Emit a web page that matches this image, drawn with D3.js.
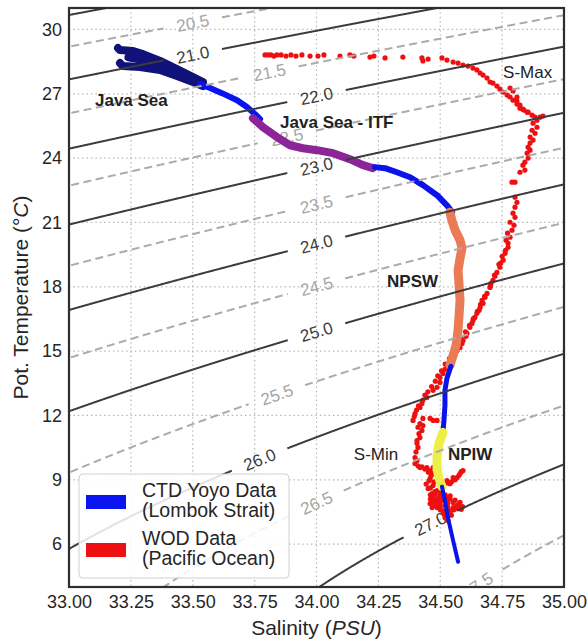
<!DOCTYPE html>
<html>
<head>
<meta charset="utf-8">
<script src="https://cdn.jsdelivr.net/npm/d3@7"></script>
<style>
  body { margin: 0; background: #fff; }
  text { font-family: "Liberation Sans", Arial, Helvetica, sans-serif; }
</style>
</head>
<body>
<svg id="chart" width="588" height="644"></svg>
<script>
// ---- axis ticks ----
const salinityTicks = [33.00, 33.25, 33.50, 33.75, 34.00, 34.25, 34.50, 34.75, 35.00];
const temperatureTicks = [6, 9, 12, 15, 18, 21, 24, 27, 30];

// ---- potential density (sigma-theta) isopycnals and where their labels sit ----
const sigmaLevels = [20.0, 20.5, 21.0, 21.5, 22.0, 22.5, 23.0, 23.5, 24.0, 24.5, 25.0, 25.5, 26.0, 26.5, 27.0, 27.5];
const sigmaLabelSalinity = [null, 33.50, 33.50, 33.81, 34.00, 33.88, 34.00, 34.00, 34.00, 34.00, 34.00, 33.84, 33.77, 34.00, 34.46, 34.65];

// ---- CTD yoyo casts, Lombok Strait: [salinity, potential temperature] ----
const ctdJavaSea = [
  [[33.198, 29.13], [33.206, 29.04], [33.259, 28.99], [33.299, 28.85], [33.368, 28.53], [33.436, 28.15], [33.501, 27.78], [33.541, 27.55]],
  [[33.206, 28.43], [33.218, 28.29], [33.287, 28.25], [33.368, 28.11], [33.436, 27.83], [33.501, 27.55], [33.541, 27.36]],
  [[33.240, 28.70], [33.299, 28.57], [33.368, 28.31], [33.436, 27.99], [33.501, 27.66]]
];
const ctdTransition = [[33.529, 27.45], [33.570, 27.27], [33.618, 27.03], [33.679, 26.70], [33.719, 26.38], [33.752, 26.05], [33.772, 25.82]];
const ctdJavaSeaITF = [[33.743, 25.86], [33.784, 25.44], [33.840, 24.98], [33.893, 24.60], [33.945, 24.46], [34.002, 24.37], [34.067, 24.23], [34.135, 23.95], [34.188, 23.67], [34.228, 23.53]];
const ctdThermocline = [[34.236, 23.58], [34.277, 23.53], [34.325, 23.34], [34.378, 23.11], [34.430, 22.74], [34.487, 22.27], [34.527, 21.80], [34.548, 21.48]];
const ctdNPSW = [[34.539, 21.48], [34.547, 21.10], [34.560, 20.64], [34.580, 20.17], [34.588, 19.80], [34.580, 19.33], [34.572, 18.77], [34.576, 18.07], [34.580, 17.37], [34.576, 16.67], [34.572, 15.97], [34.564, 15.27], [34.552, 14.80], [34.539, 14.33]];
const ctdMid = [[34.543, 14.29], [34.527, 13.73], [34.519, 13.17], [34.519, 12.47], [34.515, 11.77], [34.511, 11.21]];
const ctdNPIW = [[34.511, 11.21], [34.495, 10.69], [34.487, 10.13], [34.487, 9.52], [34.495, 9.06], [34.507, 8.68]];
const ctdDeep = [[34.507, 8.68], [34.519, 8.03], [34.531, 7.24], [34.552, 6.16], [34.572, 5.18]];

// ---- WOD profile, Pacific Ocean: [salinity, potential temperature] ----
const wodPacific = [
  // surface layer and salinity maximum
  [33.792, 28.81], [33.804, 28.81], [33.816, 28.81], [33.828, 28.76], [33.840, 28.81], [33.857, 28.81],
  [33.877, 28.76], [33.897, 28.81], [33.917, 28.76], [33.941, 28.81], [33.974, 28.76], [34.006, 28.76],
  [34.030, 28.81], [34.095, 28.76], [34.135, 28.81], [34.151, 28.76], [34.216, 28.71], [34.232, 28.76],
  [34.277, 28.67], [34.349, 28.71], [34.426, 28.67], [34.430, 28.53], [34.451, 28.62], [34.507, 28.67],
  [34.527, 28.57], [34.552, 28.48], [34.572, 28.43], [34.592, 28.34], [34.612, 28.29], [34.632, 28.20],
  [34.648, 28.11], [34.661, 27.97], [34.673, 27.87], [34.689, 27.73], [34.701, 27.55], [34.713, 27.50],
  [34.729, 27.36], [34.741, 27.22], [34.754, 27.08], [34.770, 26.94], [34.782, 26.85], [34.794, 26.70],
  [34.810, 26.52], [34.822, 26.33], [34.838, 26.24], [34.855, 26.14],
  [34.782, 27.27], [34.794, 27.13], [34.810, 26.85], [34.810, 26.66], [34.822, 26.47], [34.834, 26.28],
  [34.851, 26.14], [34.871, 26.00], [34.883, 25.91], [34.903, 25.91], [34.915, 25.96],
  [34.891, 25.77], [34.875, 25.63], [34.891, 25.44], [34.871, 25.30], [34.883, 25.16], [34.863, 24.98],
  [34.875, 24.84], [34.863, 24.70], [34.855, 24.51], [34.863, 24.37], [34.851, 24.23], [34.855, 24.00],
  [34.842, 23.81], [34.834, 23.67], [34.842, 23.44], [34.822, 23.34], [34.790, 22.88], [34.802, 22.88],
  [34.802, 22.18], [34.810, 21.94], [34.802, 21.71], [34.794, 21.43], [34.802, 21.24], [34.782, 21.01],
  // thermocline
  [34.798, 20.87], [34.790, 20.64], [34.782, 20.31], [34.766, 20.17], [34.774, 20.03], [34.774, 19.84],
  [34.762, 19.56], [34.750, 19.42], [34.754, 19.24], [34.737, 19.05], [34.741, 18.91], [34.729, 18.67],
  [34.721, 18.49], [34.713, 18.30], [34.705, 18.16], [34.701, 17.97], [34.689, 17.69], [34.681, 17.51],
  [34.669, 17.37], [34.673, 17.23], [34.661, 17.04], [34.657, 16.90], [34.648, 16.76], [34.640, 16.57],
  [34.632, 16.43], [34.628, 16.29], [34.620, 16.11], [34.608, 15.83], [34.604, 15.69], [34.592, 15.50],
  [34.588, 15.36], [34.580, 15.17], [34.568, 15.03], [34.560, 14.89], [34.547, 14.66], [34.539, 14.47],
  [34.527, 14.33], [34.519, 14.15], [34.511, 13.96], [34.499, 13.77], [34.499, 13.54], [34.487, 13.31],
  [34.471, 13.17], [34.446, 12.84], [34.426, 12.56], [34.418, 12.37], [34.398, 12.09], [34.390, 11.77],
  [34.772, 20.50], [34.764, 19.70], [34.744, 19.10], [34.719, 18.55], [34.703, 18.05], [34.679, 17.55],
  [34.663, 17.18], [34.650, 16.85], [34.634, 16.52], [34.618, 16.20], [34.602, 15.90], [34.584, 15.58],
  [34.570, 15.25], [34.552, 14.95], [34.537, 14.65], [34.520, 14.40], [34.505, 14.08], [34.490, 13.85],
  [34.480, 13.60], [34.465, 13.35], [34.450, 13.10], [34.438, 12.95], [34.430, 12.72], [34.412, 12.45],
  [34.404, 12.25], [34.395, 11.95],
  // salinity minimum
  [34.430, 11.86], [34.459, 11.86], [34.471, 11.77], [34.487, 11.77], [34.418, 11.62], [34.430, 11.53],
  [34.426, 11.30], [34.418, 10.97], [34.406, 10.83], [34.410, 10.51], [34.398, 10.04], [34.398, 9.76],
  [34.410, 11.45], [34.414, 11.15], [34.406, 10.70], [34.402, 10.30], [34.406, 9.90], [34.410, 9.65],
  [34.426, 9.60], [34.438, 9.50], [34.452, 9.35], [34.463, 9.20], [34.455, 8.95], [34.443, 8.80],
  [34.475, 8.90], [34.460, 8.62], [34.478, 8.45],
  [34.418, 9.57], [34.446, 9.57], [34.471, 9.57], [34.459, 9.43], [34.471, 9.29], [34.459, 9.06],
  [34.487, 8.96], [34.471, 8.73], [34.451, 8.59], [34.467, 8.36], [34.487, 8.50], [34.499, 8.40],
  [34.511, 8.82], [34.539, 8.82], [34.568, 9.10], [34.592, 9.43], [34.580, 9.29], [34.552, 9.10],
  [34.560, 9.00], [34.575, 9.20], [34.585, 9.38], [34.545, 8.90], [34.530, 8.85],
  [34.527, 8.96], [34.479, 8.03], [34.459, 7.89], [34.467, 7.70], [34.499, 7.89], [34.527, 8.03],
  [34.552, 7.94], [34.568, 7.80], [34.572, 7.66], [34.539, 7.56], [34.511, 7.56], [34.519, 7.24],
  [34.531, 7.10], [34.471, 8.17], [34.499, 8.17], [34.527, 8.17], [34.552, 7.70], [34.487, 7.70],
  [34.519, 7.80],
  // intermediate water below the minimum
  [34.460, 8.30], [34.480, 8.30], [34.500, 8.30], [34.520, 8.30], [34.540, 8.25],
  [34.460, 8.10], [34.490, 8.10], [34.510, 8.05], [34.540, 8.10], [34.560, 8.05], [34.580, 7.95],
  [34.470, 7.95], [34.490, 7.95], [34.530, 7.90], [34.575, 7.85], [34.590, 7.75],
  [34.480, 7.80], [34.500, 7.75], [34.530, 7.75], [34.555, 7.60], [34.585, 7.62],
  [34.500, 7.60], [34.525, 7.55], [34.540, 7.45], [34.515, 7.40], [34.545, 7.35]
];

// ---- water mass annotations: [text, salinity, temperature, bold] ----
const waterMassLabels = [
  ["Java Sea", 33.105, 26.42, true],
  ["Java Sea - ITF", 33.853, 25.40, true],
  ["NPSW", 34.285, 17.97, true],
  ["NPIW", 34.531, 9.94, true],
  ["S-Max", 34.754, 27.73, false],
  ["S-Min", 34.151, 9.90, false]
];

const legendEntries = [
  ["CTD Yoyo Data", "(Lombok Strait)"],
  ["WOD Data", "(Pacific Ocean)"]
];

// ---------------------------------------------------------------------------
const W = 588, H = 644;
const plot = { left: 69, right: 564, top: 8, bottom: 587 };
const svg = d3.select("#chart");

const x = d3.scaleLinear().domain([33, 35]).range([plot.left, plot.right]);
const y = d3.scaleLinear().domain([4, 31]).range([plot.bottom, plot.top]);

// UNESCO (1980) seawater density at the surface, minus 1000
function sigmaTheta(S, T) {
  const T2 = T * T, T3 = T2 * T, T4 = T3 * T, T5 = T4 * T;
  const rw = 999.842594 + 6.793952e-2 * T - 9.095290e-3 * T2 + 1.001685e-4 * T3 - 1.120083e-6 * T4 + 6.536332e-9 * T5;
  const A = 8.24493e-1 - 4.0899e-3 * T + 7.6438e-5 * T2 - 8.2467e-7 * T3 + 5.3875e-9 * T4;
  const B = -5.72466e-3 + 1.0227e-4 * T - 1.6546e-6 * T2;
  const C = 4.8314e-4;
  return rw + A * S + B * S * Math.sqrt(S) + C * S * S - 1000;
}
// temperature on an isopycnal for a given salinity (density falls with temperature here)
function isopycnalT(S, level) {
  let lo = -2, hi = 40;
  if (sigmaTheta(S, lo) < level || sigmaTheta(S, hi) > level) return null;
  for (let i = 0; i < 60; i++) {
    const mid = (lo + hi) / 2;
    if (sigmaTheta(S, mid) > level) lo = mid; else hi = mid;
  }
  return (lo + hi) / 2;
}

const defs = svg.append("defs");
defs.append("clipPath").attr("id", "plot-clip")
  .append("rect")
  .attr("x", plot.left).attr("y", plot.top)
  .attr("width", plot.right - plot.left).attr("height", plot.bottom - plot.top);

// background
svg.append("rect").attr("width", W).attr("height", H).attr("fill", "#fff");

// dotted grid
const grid = svg.append("g").attr("stroke", "#b4b4b4").attr("stroke-width", 1.2).attr("stroke-dasharray", "1.4,3");
grid.selectAll(".gx").data(salinityTicks).join("line")
  .attr("x1", d => x(d)).attr("x2", d => x(d)).attr("y1", plot.top).attr("y2", plot.bottom);
grid.selectAll(".gy").data(temperatureTicks).join("line")
  .attr("y1", d => y(d)).attr("y2", d => y(d)).attr("x1", plot.left).attr("x2", plot.right);

// layers: isopycnal labels, observations, isopycnal lines
const labelLayer = svg.append("g").attr("clip-path", "url(#plot-clip)");
const dataLayer = svg.append("g").attr("clip-path", "url(#plot-clip)");
const contourLayer = svg.append("g").attr("clip-path", "url(#plot-clip)").attr("fill", "none");

const pixelLine = d3.line();
sigmaLevels.forEach((level, i) => {
  const major = Math.abs(level - Math.round(level)) < 1e-6;
  const pts = [];
  for (let s = 32.96; s <= 35.04; s += 0.002) {
    const t = isopycnalT(s, level);
    if (t !== null) pts.push([x(s), y(t)]);
  }
  let cx = null, cy = null, radius = 0;
  const ls = sigmaLabelSalinity[i];
  if (ls !== null) {
    const t0 = isopycnalT(ls, level);
    const ta = isopycnalT(ls - 0.01, level), tb = isopycnalT(ls + 0.01, level);
    cx = x(ls); cy = y(t0);
    const ang = Math.atan2(y(tb) - y(ta), x(ls + 0.01) - x(ls - 0.01)) * 180 / Math.PI;
    const label = labelLayer.append("text")
      .attr("transform", `translate(${cx},${cy}) rotate(${ang})`)
      .attr("text-anchor", "middle")
      .attr("dy", "0.36em")
      .attr("font-size", 17)
      .attr("fill", major ? "#3c3c3c" : "#a6a6a6")
      .text(level.toFixed(1));
    radius = label.node().getComputedTextLength() / 2 + 13;
  }
  // break the line where its label sits
  const pieces = [];
  let cur = [];
  pts.forEach(p => {
    const inside = cx !== null && Math.hypot(p[0] - cx, p[1] - cy) < radius;
    if (inside) { if (cur.length > 1) pieces.push(cur); cur = []; }
    else cur.push(p);
  });
  if (cur.length > 1) pieces.push(cur);
  pieces.forEach(seg => {
    contourLayer.append("path")
      .attr("d", pixelLine(seg))
      .attr("stroke", major ? "#3c3c3c" : "#ababab")
      .attr("stroke-width", 2)
      .attr("stroke-dasharray", major ? null : "8,4.5");
  });
});

// WOD points
dataLayer.append("g").selectAll("circle").data(wodPacific).join("circle")
  .attr("cx", d => x(d[0])).attr("cy", d => y(d[1])).attr("r", 2.6)
  .attr("fill", "#ee1010");

// CTD traces
const trace = d3.line().x(d => x(d[0])).y(d => y(d[1]));
const ctdSegments = [
  ...ctdJavaSea.map(t => [t, "#10127a", 8]),
  [ctdTransition, "#0a14f0", 6],
  [ctdJavaSeaITF, "#8c2598", 8],
  [ctdThermocline, "#0a14e8", 6],
  [ctdNPSW, "#ea7b55", 9],
  [ctdMid, "#0a14e8", 5],
  [ctdNPIW, "#eeee48", 9],
  [ctdDeep, "#0a14e8", 4]
];
dataLayer.append("g").attr("fill", "none")
  .selectAll("path").data(ctdSegments).join("path")
  .attr("d", d => trace(d[0]))
  .attr("stroke", d => d[1])
  .attr("stroke-width", d => d[2])
  .attr("stroke-linecap", "round")
  .attr("stroke-linejoin", "round");

// isopycnal lines go above the observations
contourLayer.raise();

// water mass annotations
svg.append("g").selectAll("text").data(waterMassLabels).join("text")
  .attr("x", d => x(d[1])).attr("y", d => y(d[2]))
  .attr("font-size", 17)
  .attr("font-weight", d => d[3] ? "bold" : "normal")
  .attr("fill", "#222")
  .text(d => d[0]);

// axes
const xAxis = d3.axisBottom(x).tickValues(salinityTicks).tickFormat(d3.format(".2f")).tickSize(0).tickPadding(8);
const yAxis = d3.axisLeft(y).tickValues(temperatureTicks).tickFormat(d3.format("d")).tickSize(0).tickPadding(7);
const gx = svg.append("g").attr("transform", `translate(0,${plot.bottom})`).call(xAxis);
const gy = svg.append("g").attr("transform", `translate(${plot.left},0)`).call(yAxis);
[gx, gy].forEach(g => {
  g.select(".domain").remove();
  g.selectAll("text").attr("font-size", 18).attr("fill", "#262626")
    .attr("font-family", '"Liberation Sans", Arial, sans-serif');
});

// axis titles
const xt = svg.append("text").attr("x", (plot.left + plot.right) / 2).attr("y", 635)
  .attr("text-anchor", "middle").attr("font-size", 21).attr("fill", "#262626");
xt.append("tspan").text("Salinity (");
xt.append("tspan").attr("font-style", "italic").text("PSU");
xt.append("tspan").text(")");

const yt = svg.append("text")
  .attr("transform", `translate(28,${(plot.top + plot.bottom) / 2}) rotate(-90)`)
  .attr("text-anchor", "middle").attr("font-size", 21).attr("fill", "#262626");
yt.append("tspan").text("Pot. Temperature (°");
yt.append("tspan").attr("font-style", "italic").text("C");
yt.append("tspan").text(")");

// legend
const legend = svg.append("g");
legend.append("rect").attr("x", 79).attr("y", 474).attr("width", 210).attr("height", 104)
  .attr("rx", 4).attr("fill", "#fff").attr("fill-opacity", 0.85)
  .attr("stroke", "#d0d0d0").attr("stroke-width", 1);
const legendColors = ["#0a14f0", "#ee1010"];
legendEntries.forEach((e, i) => {
  const top = 474 + i * 48;
  legend.append("rect").attr("x", 86).attr("y", top + 21).attr("width", 40).attr("height", 14)
    .attr("fill", legendColors[i]);
  legend.append("text").attr("x", 142).attr("y", top + 23).attr("font-size", 19.5).attr("fill", "#262626").text(e[0]);
  legend.append("text").attr("x", 142).attr("y", top + 43).attr("font-size", 19.5).attr("fill", "#262626").text(e[1]);
});

// frame
svg.append("rect").attr("x", plot.left).attr("y", plot.top)
  .attr("width", plot.right - plot.left).attr("height", plot.bottom - plot.top)
  .attr("fill", "none").attr("stroke", "#2e2e2e").attr("stroke-width", 2.2);
</script>
</body>
</html>
